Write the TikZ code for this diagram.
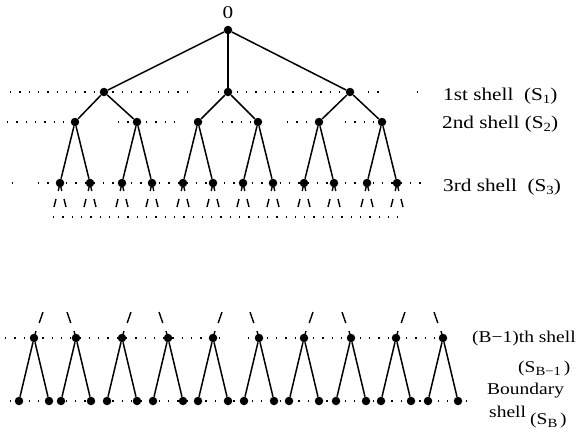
\documentclass[tikz,border=0pt]{standalone}
\usepackage{fontspec}
\setmainfont{Liberation Serif}
\newfontfamily\lblfont[FakeStretch=1.18]{Liberation Serif}
\newcommand\shsub[1]{\raisebox{-0.35ex}{\fontsize{12.5}{13}\selectfont #1}}
\begin{document}
\begin{tikzpicture}[x=1pt,y=-1pt,
  dot/.style={circle,fill=black,inner sep=0pt,minimum size=8.5pt},
  edge/.style={line width=1.5pt},
  tick/.style={line width=1.4pt},
  dotrow/.style={line width=1.5pt,dash pattern=on 1.3pt off 8pt},
  lbl/.style={anchor=west,inner sep=0pt,font=\lblfont\fontsize{18}{20}\selectfont},
  lbls/.style={anchor=west,inner sep=0pt,font=\lblfont\fontsize{16.5}{18}\selectfont}]
\useasboundingbox (0,0) rectangle (582,434);
% dotted shell lines
\draw[dotrow] (10,92) -- (192,92);
\draw[dotrow] (218,92) -- (345,92);
\draw[dotrow] (368,92) -- (385,92);
\draw[dotrow] (417,92) -- (418,92);
\draw[dotrow] (7,122) -- (66,122);
\draw[dotrow] (118,122) -- (180,122);
\draw[dotrow] (222,122) -- (250,122);
\draw[dotrow] (287,122) -- (312,122);
\draw[dotrow] (345,122) -- (374,122);
\draw[dotrow] (12,183) -- (13,183);
\draw[dotrow] (38,183) -- (428,183);
\draw[dotrow] (53,217) -- (406,217);
\draw[dotrow] (5,338) -- (228,338);
\draw[dotrow] (248,338) -- (452,338);
\draw[dotrow] (10,401) -- (474,401);
% tree
\node[dot] (r) at (228,30) {};
\node[lbl,anchor=center] (zero) at (228,13) {0};
\node[dot] (a) at (104,92) {};
\node[dot] (b) at (228,92) {};
\node[dot] (c) at (350,92) {};
\foreach \n in {a,b,c} \draw[edge] (r) -- (\n);
\foreach \p/\n/\x in {a/a1/75,a/a2/137,b/b1/198,b/b2/258,c/c1/319,c/c2/382}{
  \node[dot] (\n) at (\x,122) {};
  \draw[edge] (\p) -- (\n);
  \node[dot] (\n l) at (\x-15,183) {};
  \node[dot] (\n r) at (\x+15,183) {};
  \draw[edge] (\n) -- (\n l);
  \draw[edge] (\n) -- (\n r);
  \foreach \s in {l,r}{
    \draw[tick] (\n\s.center) -- ([shift={(-1.8,8)}]\n\s.center);
    \draw[tick] (\n\s.center) -- ([shift={(1.8,8)}]\n\s.center);
    \draw[tick] ([shift={(-4,16)}]\n\s.center) -- ([shift={(-6,24)}]\n\s.center);
    \draw[tick] ([shift={(4,16)}]\n\s.center) -- ([shift={(6,24)}]\n\s.center);
  }
}
% lower shells
\foreach \i/\x in {1/34,2/76,3/122,4/168,5/213,6/259,7/304,8/351,9/396,10/443}{
  \node[dot] (m\i) at (\x,338) {};
  \node[dot] (m\i l) at (\x-15,401) {};
  \node[dot] (m\i r) at (\x+15,401) {};
  \draw[edge] (m\i) -- (m\i l);
  \draw[edge] (m\i) -- (m\i r);
}
\foreach \i in {1,3,5,7,9}{
  \draw[tick] (m\i.center) -- ([shift={(2,-7)}]m\i.center);
  \draw[tick] ([shift={(5.2,-15)}]m\i.center) -- ([shift={(9,-26)}]m\i.center);
}
\foreach \i in {2,4,6,8,10}{
  \draw[tick] (m\i.center) -- ([shift={(-2,-7)}]m\i.center);
  \draw[tick] ([shift={(-5.2,-15)}]m\i.center) -- ([shift={(-9,-26)}]m\i.center);
}
% labels
\node[lbl] (l1) at (443,96) {1st shell\ \ (S\shsub{1})};
\node[lbl] (l2) at (442,124) {2nd shell (S\shsub{2})};
\node[lbl] (l3) at (443,187) {3rd shell\ \ (S\shsub{3})};
\node[lbls] (l4) at (472,339) {(B−1)th shell};
\node[lbls] (l5) at (518,369) {(S\shsub{B−1}\,)};
\node[lbls] (l6) at (487,391) {Boundary};
\node[lbls] (l7) at (489,412) {shell};
\node[lbls] (l8) at (530,421) {(S\shsub{B}\,)};
\end{tikzpicture}
\end{document}
